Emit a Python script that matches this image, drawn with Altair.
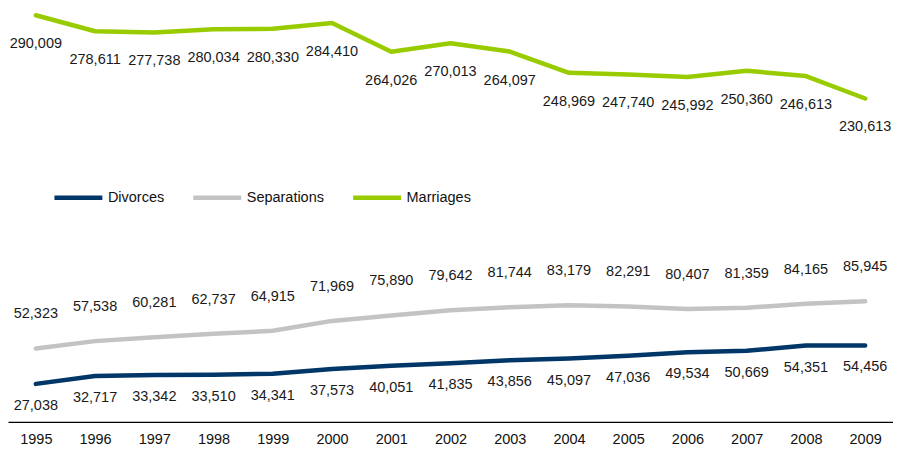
import altair as alt
import pandas as pd

years = [str(y) for y in range(1995, 2010)]
divorces = [27038, 32717, 33342, 33510, 34341, 37573, 40051, 41835, 43856, 45097,
            47036, 49534, 50669, 54351, 54456]
separations = [52323, 57538, 60281, 62737, 64915, 71969, 75890, 79642, 81744, 83179,
               82291, 80407, 81359, 84165, 85945]
marriages = [290009, 278611, 277738, 280034, 280330, 284410, 264026, 270013, 264097, 248969,
             247740, 245992, 250360, 246613, 230613]
series = ["Divorces", "Separations", "Marriages"]
colors = ["#003768", "#c3c3c3", "#99cc00"]
label_dy = [22, -34, 29]

rows = []
for name, vals in zip(series, [divorces, separations, marriages]):
    for y, v in zip(years, vals):
        rows.append({"year": y, "value": v, "series": name})
df = pd.DataFrame(rows)

FONT = "Liberation Sans, Arial, sans-serif"
FS = 14.5

x = alt.X("year:O", scale=alt.Scale(type="point", padding=0.47),
          axis=alt.Axis(title=None, labelAngle=0, ticks=False, domainColor="#000000",
                        domainWidth=1.2, labelFontSize=FS, labelFont=FONT,
                        labelColor="#111111", labelPadding=11))
y = alt.Y("value:Q", scale=alt.Scale(domain=[0, 295000], nice=False, zero=True), axis=None)

lines = alt.Chart(df).mark_line(strokeWidth=4.5, strokeCap="round", strokeJoin="round").encode(
    x=x, y=y,
    color=alt.Color("series:N",
                    scale=alt.Scale(domain=series, range=colors),
                    sort=series,
                    legend=alt.Legend(title=None, orient="none", direction="horizontal",
                                      legendX=44, legendY=163,
                                      symbolType="stroke", symbolSize=2304,
                                      symbolStrokeWidth=4.5, labelFontSize=FS,
                                      labelFont=FONT, labelColor="#111111",
                                      labelOffset=3, columnPadding=19)),
)

texts = []
for name, dy in zip(series, label_dy):
    texts.append(
        alt.Chart(df[df.series == name]).mark_text(
            dy=dy, fontSize=FS, font=FONT, color="#1a1a1a", baseline="middle"
        ).encode(x=x, y=y, text=alt.Text("value:Q", format=","))
    )

chart = alt.layer(lines, *texts).properties(
    width=886, height=414, padding=0
).configure_view(stroke=None)

chart.save("out.html", embed_options={"renderer": "svg", "actions": False})
